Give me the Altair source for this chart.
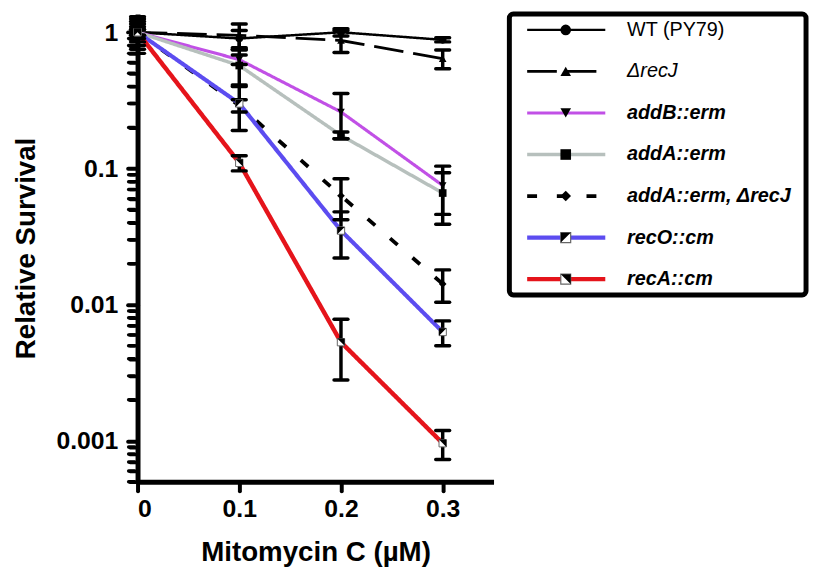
import altair as alt
import pandas as pd

FONT = "Liberation Sans"

# ---- data ----
DOSES = [0, 0.1, 0.2, 0.3]
NAMES = ["WT (PY79)", "ΔrecJ", "addB::erm", "addA::erm",
         "addA::erm, ΔrecJ", "recO::cm", "recA::cm"]

WT_MEAN = [1.0, 0.90, 1.0, 0.88]
WT_ERR = [0.2, 0.13, 0.06, 0.03]
RECJ_MEAN = [1.0, 0.95, 0.87, 0.64]
RECJ_ERR = [0.3, 0.2, 0.16, 0.10]
ADDB_MEAN = [1.0, 0.63, 0.26, 0.075]
ADDB_ERR = [0.15, 0.05, 0.095, 0.029]
ADDA_MEAN = [1.0, 0.57, 0.175, 0.066]
ADDA_ERR = [0.25, 0.17, 0.01, 0.027]
ADDA_RECJ_MEAN = [1.0, 0.29, 0.063, 0.0142]
ADDA_RECJ_ERR = [0.05, 0.03, 0.021, 0.0038]
RECO_MEAN = [1.0, 0.30, 0.035, 0.0063]
RECO_ERR = [0.1, 0.11, 0.013, 0.0013]
RECA_MEAN = [1.0, 0.110, 0.0053, 0.00096]
RECA_ERR = [0.05, 0.014, 0.0025, 0.00023]

MEANS = [WT_MEAN, RECJ_MEAN, ADDB_MEAN, ADDA_MEAN, ADDA_RECJ_MEAN, RECO_MEAN, RECA_MEAN]
ERRS = [WT_ERR, RECJ_ERR, ADDB_ERR, ADDA_ERR, ADDA_RECJ_ERR, RECO_ERR, RECA_ERR]

X_TICKS = [0, 0.1, 0.2, 0.3]
Y_MAJOR = [1, 0.1, 0.01, 0.001]
Y_MINOR = [0.0005, 0.0006, 0.0007, 0.0008, 0.0009,
           0.002, 0.003, 0.004, 0.005, 0.006, 0.007, 0.008, 0.009,
           0.02, 0.03, 0.04, 0.05, 0.06, 0.07, 0.08, 0.09,
           0.2, 0.3, 0.4, 0.5, 0.6, 0.7, 0.8, 0.9]

# ---- styles ----
COLORS = ["#000000", "#000000", "#C150E6", "#B7C0BD", "#000000", "#5C4CF0", "#E5141B"]
DASHES = [[1, 0], [30, 10], [1, 0], [1, 0], [10, 20], [1, 0], [1, 0]]
WIDTHS = [2.5, 4.5, 3, 3, 4, 3, 3]
SHAPES = ["circle", "triangle-up", "triangle-down", "square", "diamond",
          "M-1,-1L1,-1L-1,1Z", "M-1,-1L1,-1L1,1Z"]
FILLED = NAMES[:5]
HALF = NAMES[5:]

rows = []
for name, means, errs in zip(NAMES, MEANS, ERRS):
    for d, m, e in zip(DOSES, means, errs):
        rows.append({"name": name, "dose": d, "mean": m, "lo": m - e, "hi": m + e})
df = pd.DataFrame(rows)
minor_df = pd.DataFrame({"dose": [0.0] * len(Y_MINOR), "mean": Y_MINOR})

xscale = alt.Scale(domain=[0, 0.35], nice=False, zero=False)
yscale = alt.Scale(type="log", domain=[0.0005, 1.36], nice=False)

color = alt.Color("name:N", scale=alt.Scale(domain=NAMES, range=COLORS), legend=None)
dash = alt.StrokeDash("name:N", scale=alt.Scale(domain=NAMES, range=DASHES), legend=None)
width = alt.StrokeWidth("name:N", scale=alt.Scale(domain=NAMES, range=WIDTHS), legend=None)
shape = alt.Shape("name:N", scale=alt.Scale(domain=NAMES, range=SHAPES), legend=None)

major_test = "indexof([" + ",".join(str(v) for v in Y_MAJOR) + "], datum.value) >= 0"

x_axis = alt.Axis(values=X_TICKS, format="~g", title="Mitomycin C (µM)",
                  tickSize=9, labelPadding=6, titlePadding=18, grid=False)
y_axis = alt.Axis(
    values=sorted(Y_MAJOR + Y_MINOR), format="~g", title="Relative Survival",
    labelExpr=major_test + " ? datum.label : ''",
    labelOverlap=False,
    tickSize={"condition": {"test": major_test, "value": 10}, "value": 8},
    tickWidth={"condition": {"test": major_test, "value": 4}, "value": 3.5},
    labelPadding=10, titlePadding=16, grid=False)

X = alt.X("dose:Q", scale=xscale)
base = alt.Chart(df)

lines = base.mark_line().encode(
    x=alt.X("dose:Q", scale=xscale, axis=x_axis),
    y=alt.Y("mean:Q", scale=yscale, axis=y_axis),
    color=color, strokeDash=dash, strokeWidth=width, detail="name:N")

bars = base.mark_rule(color="black", strokeWidth=3.5).encode(
    x=X, y=alt.Y("lo:Q", scale=yscale), y2="hi:Q")
cap_lo = base.mark_rule(color="black", strokeWidth=3.5, xOffset=-7, x2Offset=7,
                        strokeCap="round").encode(
    x=X, x2="dose:Q", y=alt.Y("lo:Q", scale=yscale))
cap_hi = base.mark_rule(color="black", strokeWidth=3.5, xOffset=-7, x2Offset=7,
                        strokeCap="round").encode(
    x=X, x2="dose:Q", y=alt.Y("hi:Q", scale=yscale))

pts = base.transform_filter(alt.FieldOneOfPredicate(field="name", oneOf=FILLED)).mark_point(
    filled=True, color="black", size=60, opacity=1).encode(
    x=X, y=alt.Y("mean:Q", scale=yscale), shape=shape)
sq = base.transform_filter(alt.FieldOneOfPredicate(field="name", oneOf=HALF)).mark_point(
    shape="square", filled=True, fill="white", stroke="#666666", strokeWidth=1,
    size=55, opacity=1).encode(x=X, y=alt.Y("mean:Q", scale=yscale))
half = base.transform_filter(alt.FieldOneOfPredicate(field="name", oneOf=HALF)).mark_point(
    filled=True, color="black", size=55, opacity=1).encode(
    x=X, y=alt.Y("mean:Q", scale=yscale), shape=shape)

# minor log ticks drawn as short round-capped dashes left of the y axis line
minor = alt.Chart(minor_df).mark_rule(color="black", strokeWidth=3.5, strokeCap="round",
                                      xOffset=-9, x2Offset=-3).encode(
    x=X, x2="dose:Q", y=alt.Y("mean:Q", scale=yscale))

main = alt.layer(lines, bars, cap_lo, cap_hi, pts, sq, half, minor).properties(
    width=360, height=473)

# ---- legend panel ----
leg_df = pd.DataFrame({"name": NAMES})
ly = alt.Y("name:N", scale=alt.Scale(domain=NAMES, type="point", padding=0.38), axis=None)
lbase = alt.Chart(leg_df)
leg_lines = lbase.mark_rule().encode(x=alt.value(18), x2=alt.value(97), y=ly,
                                     color=color, strokeDash=dash, strokeWidth=width)
leg_pts = lbase.transform_filter(alt.FieldOneOfPredicate(field="name", oneOf=FILLED)).mark_point(
    filled=True, color="black", size=115, opacity=1).encode(x=alt.value(57), y=ly, shape=shape)
leg_sq = lbase.transform_filter(alt.FieldOneOfPredicate(field="name", oneOf=HALF)).mark_point(
    shape="square", filled=True, fill="white", stroke="#666666", strokeWidth=1.2,
    size=100, opacity=1).encode(x=alt.value(57), y=ly)
leg_half = lbase.transform_filter(alt.FieldOneOfPredicate(field="name", oneOf=HALF)).mark_point(
    filled=True, color="black", size=100, opacity=1).encode(x=alt.value(57), y=ly, shape=shape)
t_norm = lbase.transform_filter(alt.FieldOneOfPredicate(field="name", oneOf=[NAMES[0]])).mark_text(
    align="left", baseline="middle", font=FONT, fontSize=20, color="black").encode(
    x=alt.value(119), y=ly, text="name:N")
t_ital = lbase.transform_filter(alt.FieldOneOfPredicate(field="name", oneOf=[NAMES[1]])).mark_text(
    align="left", baseline="middle", font=FONT, fontSize=20, fontStyle="italic", color="black").encode(
    x=alt.value(119), y=ly, text="name:N")
t_bold = lbase.transform_filter(alt.FieldOneOfPredicate(field="name", oneOf=NAMES[2:])).mark_text(
    align="left", baseline="middle", font=FONT, fontSize=20, fontStyle="italic",
    fontWeight="bold", color="black").encode(x=alt.value(119), y=ly, text="name:N")

legend = alt.layer(leg_lines, leg_pts, leg_sq, leg_half, t_norm, t_ital, t_bold).properties(
    width=300, height=284,
    view=alt.ViewBackground(stroke="black", strokeWidth=5, cornerRadius=4))

chart = alt.hconcat(main, legend, spacing=13).resolve_scale(
    x="independent", y="independent"
).properties(
    padding={"left": 4, "top": 0, "right": 0, "bottom": 0}
).configure_view(stroke=None).configure_axis(
    labelFont=FONT, labelFontSize=25, labelFontWeight="bold", labelColor="black",
    titleFont=FONT, titleFontSize=28, titleFontWeight="bold", titleColor="black",
    domainColor="black", domainWidth=5, tickColor="black", tickWidth=4, tickCap="round"
)

chart.save("out.html", embed_options={"renderer": "svg", "actions": False})
